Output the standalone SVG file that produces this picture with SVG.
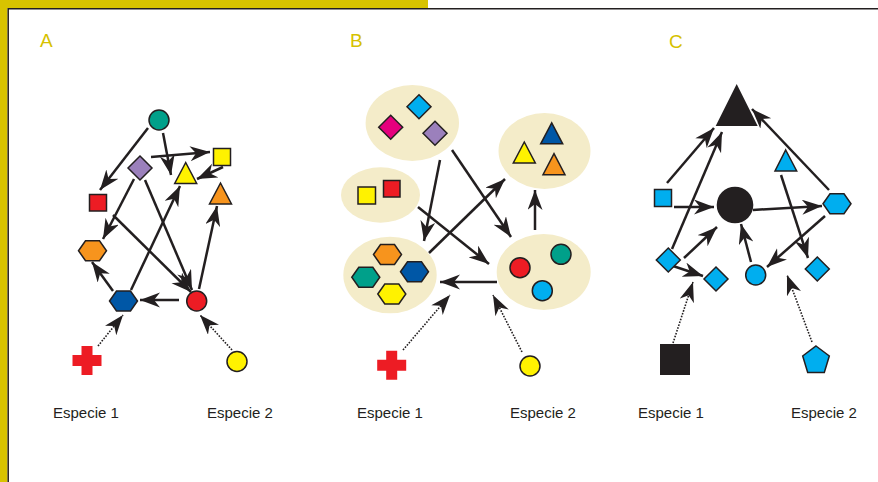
<svg xmlns="http://www.w3.org/2000/svg" xmlns:xlink="http://www.w3.org/1999/xlink" width="878" height="482" viewBox="0 0 878 482">
<style>
.ln{stroke:#231f20;stroke-width:2.5;fill:none;marker-end:url(#ah)}
.dt{stroke:#231f20;stroke-width:1.6;fill:none;stroke-dasharray:1.6 1.4;marker-end:url(#ah)}
.sh{stroke:#231f20;stroke-width:1.5}
.ell{fill:#f4ecc9;stroke:none}
.lbl{font-family:"Liberation Sans",Arial,sans-serif;font-size:19px;fill:#d6c100}
.sp{font-family:"Liberation Sans",Arial,sans-serif;font-size:15px;fill:#231f20}
.teal{fill:#00a08a}.purple{fill:#9b80bc}.yellow{fill:#fff200}.red{fill:#ed1c24}
.orange{fill:#f7941d}.blue{fill:#0057a6}.cyan{fill:#00aeef}.magenta{fill:#e5007d}.black{fill:#231f20}
</style>
<defs>
<marker id="ah" markerUnits="userSpaceOnUse" markerWidth="22" markerHeight="16" refX="20" refY="7.5" orient="auto">
<path d="M0,0 L20,7.5 L0,15 L6,7.5 Z" fill="#231f20"/>
</marker>
<path id="hex" d="M-14,0 L-7,-10 L7,-10 L14,0 L7,10 L-7,10 Z"/>
<path id="dia" d="M0,-12 L12,0 L0,12 L-12,0 Z"/>
<path id="tri" d="M0,-10.5 L11,10.5 L-11,10.5 Z"/>
<path id="cross" d="M-5.5,-14.5 H5.5 V-5.5 H14.5 V5.5 H5.5 V14.5 H-5.5 V5.5 H-14.5 V-5.5 H-5.5 Z"/>
</defs>
<rect width="878" height="482" fill="#fff"/>
<g id="frame">
<rect x="0" y="0" width="428" height="8" fill="#d8c300"/>
<rect x="0" y="0" width="7.5" height="482" fill="#d8c300"/>
<path d="M8.2,482 V8.7 H878" stroke="#231f20" stroke-width="1.5" fill="none"/>
</g>
<g id="titles">
<text class="lbl" x="40" y="47">A</text>
<text class="lbl" x="350" y="47">B</text>
<text class="lbl" x="669" y="48">C</text>
</g>
<g id="connectors">
<line class="ln" x1="148" y1="128" x2="100" y2="190"/>
<line class="ln" x1="163" y1="133" x2="171" y2="175"/>
<line class="ln" x1="151" y1="157" x2="210" y2="152"/>
<line class="ln" x1="223" y1="167" x2="197" y2="179"/>
<line class="ln" x1="134" y1="179" x2="103" y2="239"/>
<line class="ln" x1="113" y1="215" x2="191" y2="292"/>
<line class="ln" x1="145" y1="180" x2="192" y2="290"/>
<line class="ln" x1="131" y1="290" x2="180" y2="186"/>
<line class="ln" x1="199" y1="289" x2="217" y2="206"/>
<line class="ln" x1="179" y1="300" x2="140" y2="300"/>
<line class="ln" x1="113" y1="291" x2="92" y2="262"/>
<line class="dt" x1="98" y1="346" x2="123" y2="315"/>
<line class="dt" x1="232" y1="350" x2="200" y2="315"/>

<line class="ln" x1="440" y1="160" x2="424" y2="241"/>
<line class="ln" x1="452" y1="150" x2="511" y2="237"/>
<line class="ln" x1="418" y1="207" x2="489" y2="264"/>
<line class="ln" x1="429" y1="253" x2="505" y2="179"/>
<line class="ln" x1="535" y1="230" x2="535" y2="190"/>
<line class="ln" x1="497" y1="282" x2="440" y2="282"/>
<line class="dt" x1="403" y1="350" x2="450" y2="295"/>
<line class="dt" x1="522" y1="352" x2="493" y2="295"/>

<line class="ln" x1="667" y1="183" x2="714" y2="128"/>
<line class="ln" x1="672" y1="249" x2="722" y2="132"/>
<line class="ln" x1="674" y1="207" x2="714" y2="207"/>
<line class="ln" x1="829" y1="190" x2="752" y2="109"/>
<line class="ln" x1="753" y1="210" x2="822" y2="206"/>
<line class="ln" x1="781" y1="175" x2="808" y2="258"/>
<line class="ln" x1="825" y1="216" x2="767" y2="267"/>
<line class="ln" x1="684" y1="258" x2="717" y2="227"/>
<line class="ln" x1="673" y1="266" x2="703" y2="276"/>
<line class="ln" x1="751" y1="262" x2="741" y2="224"/>
<line class="dt" x1="673" y1="343" x2="693" y2="282"/>
<line class="dt" x1="812" y1="342" x2="787" y2="275"/>
</g>

<g id="A-teal-circle"><circle class="sh teal" cx="159" cy="120" r="10"/></g>
<g id="A-purple-diamond"><use href="#dia" class="sh purple" x="140" y="168"/></g>
<g id="A-yellow-triangle"><use href="#tri" class="sh yellow" x="185.7" y="173"/></g>
<g id="A-yellow-square"><rect class="sh yellow" x="213.5" y="148.5" width="17" height="17"/></g>
<g id="A-orange-triangle"><use href="#tri" class="sh orange" x="220.5" y="193.5"/></g>
<g id="A-red-square"><rect class="sh red" x="89.5" y="194.5" width="17" height="16.5"/></g>
<g id="A-orange-hexagon"><use href="#hex" class="sh orange" x="92.5" y="250.7"/></g>
<g id="A-blue-hexagon"><use href="#hex" class="sh blue" x="123.5" y="301"/></g>
<g id="A-red-circle"><circle class="sh red" cx="196.7" cy="301" r="10"/></g>
<g id="A-red-cross"><use href="#cross" class="red" x="87" y="360.5"/></g>
<g id="A-yellow-circle"><circle class="sh yellow" cx="237" cy="361.5" r="10"/></g>

<g id="B-diamonds">
<ellipse class="ell" cx="412.3" cy="123" rx="46.7" ry="38"/>
<use href="#dia" class="sh cyan" x="419" y="106.7"/>
<use href="#dia" class="sh magenta" x="390.7" y="127.3"/>
<use href="#dia" class="sh purple" x="435" y="133.3"/>
</g>
<g id="B-squares">
<ellipse class="ell" cx="380.5" cy="195" rx="39.5" ry="27.7"/>
<rect class="sh yellow" x="358" y="187" width="17.5" height="17"/>
<rect class="sh red" x="383.5" y="180.5" width="16.5" height="16.5"/>
</g>
<g id="B-triangles">
<ellipse class="ell" cx="544.5" cy="151" rx="46" ry="38"/>
<use href="#tri" class="sh blue" x="551.7" y="133.3"/>
<use href="#tri" class="sh yellow" x="524.3" y="152.5"/>
<use href="#tri" class="sh orange" x="554" y="164.2"/>
</g>
<g id="B-hexagons">
<ellipse class="ell" cx="390" cy="275" rx="46.7" ry="38.3"/>
<use href="#hex" class="sh orange" x="387.5" y="254.5"/>
<use href="#hex" class="sh teal" x="365.8" y="277.3"/>
<use href="#hex" class="sh blue" x="414.5" y="271.7"/>
<use href="#hex" class="sh yellow" x="391.8" y="294"/>
</g>
<g id="B-circles">
<ellipse class="ell" cx="543.7" cy="272" rx="47" ry="38"/>
<circle class="sh red" cx="520" cy="267.7" r="10"/>
<circle class="sh teal" cx="561" cy="254.3" r="10"/>
<circle class="sh cyan" cx="542.3" cy="290.7" r="10"/>
</g>
<g id="B-red-cross"><use href="#cross" class="red" x="391.7" y="365.3"/></g>
<g id="B-yellow-circle"><circle class="sh yellow" cx="530" cy="366" r="10"/></g>

<g id="C-big-triangle"><path class="black" d="M736.7,84 L757.7,126 L715.7,126 Z"/></g>
<g id="C-cyan-square"><rect class="sh cyan" x="654.5" y="189.5" width="17" height="17"/></g>
<g id="C-big-circle"><circle class="black" cx="735" cy="205" r="18.3"/></g>
<g id="C-cyan-triangle"><path class="sh cyan" d="M785.7,150 L796.7,171 L775,171 Z"/></g>
<g id="C-cyan-hexagon"><use href="#hex" class="sh cyan" x="837" y="203.7"/></g>
<g id="C-cyan-diamond-1"><use href="#dia" class="sh cyan" x="668.3" y="260"/></g>
<g id="C-cyan-diamond-2"><use href="#dia" class="sh cyan" x="716" y="279"/></g>
<g id="C-cyan-circle"><circle class="sh cyan" cx="755.7" cy="275" r="10"/></g>
<g id="C-cyan-diamond-3"><use href="#dia" class="sh cyan" x="817.3" y="269"/></g>
<g id="C-black-square"><rect class="black" x="660" y="344" width="30" height="31"/></g>
<g id="C-cyan-pentagon"><path class="sh cyan" d="M816,346 L829.3,356 L824.3,372.5 L807.7,372.5 L802.7,356 Z"/></g>

<g id="labels">
<text class="sp" x="53" y="418">Especie 1</text>
<text class="sp" x="207" y="418">Especie 2</text>
<text class="sp" x="357" y="418">Especie 1</text>
<text class="sp" x="510" y="418">Especie 2</text>
<text class="sp" x="638" y="418">Especie 1</text>
<text class="sp" x="791" y="418">Especie 2</text>
</g>
</svg>
